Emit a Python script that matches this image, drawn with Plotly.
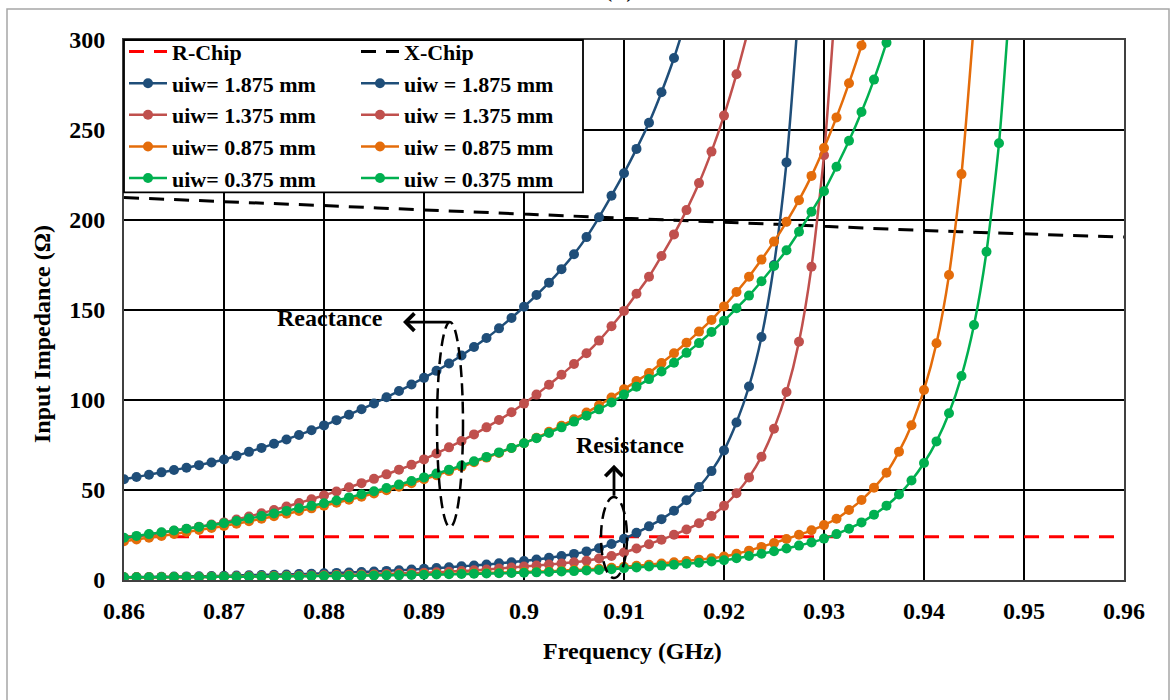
import plotly.graph_objects as go

# ---------------- data ----------------
freq = [round(0.86 + 0.00125 * i, 5) for i in range(81)]  # sampling grid (GHz)

chip_freq = [0.86, 0.87, 0.88, 0.89, 0.90, 0.91, 0.92, 0.93, 0.94, 0.95, 0.96]
R_chip = [24, 24, 24, 24, 24, 24, 24, 24, 24, 24, 24]
X_chip = [212.5, 210.2, 208, 205.6, 203.3, 201, 198.8, 196.5, 194.2, 192.3, 190.5]

X_1875 = [56, 57.2, 58.5, 59.8, 61.1, 62.4, 63.8, 65.3, 66.9,
          69, 71.2, 73.4, 75.7, 78.1, 80.6, 83.2, 85.9,
          88.8, 91.8, 94.9, 98.1, 101.5, 105, 108.6, 112.3,
          116.2, 120.3, 124.7, 129.4, 134.4, 139.8, 145.6, 151.8,
          158.3, 165.2, 172.7, 181, 190.5, 201.5, 213.5, 226,
          239.5, 254, 271, 290, 312]
X_1375 = [23, 24, 25.1, 26.2, 27.3, 28.4, 29.6, 30.8, 32,
          33.6, 35.3, 37.1, 38.9, 40.8, 42.8, 44.9, 47,
          49.2, 51.5, 53.8, 56.2, 58.7, 61.3, 64, 67,
          70.3, 73.7, 77.2, 80.9, 84.8, 88.9, 93.2, 98,
          103, 108.5, 114, 120, 126, 133, 141, 149.5,
          159, 168.5, 180, 192, 205.5, 220.5, 238, 258, 281, 307]
X_0875 = [21.5, 22.5, 23.5, 24.5, 25.6, 26.7, 27.8, 28.9, 30,
          31.3, 32.6, 34, 35.4, 36.8, 38.3, 39.8, 41.3,
          42.9, 44.6, 46.3, 48.1, 49.9, 51.8, 53.8, 56,
          58.2, 60.5, 62.9, 65.4, 68, 70.6, 73.3, 76,
          79, 82.3, 85.7, 89.3, 93, 97, 101.4, 106,
          110.5, 115, 120.5, 126, 131.8, 138, 144.5, 152, 160, 168.5,
          178, 188, 199, 211, 224.5, 240, 257, 276, 297, 322]
X_0375 = [23.5, 24.5, 25.5, 26.5, 27.5, 28.5, 29.5, 30.5, 31.5,
          32.8, 34.1, 35.5, 36.9, 38.4, 39.9, 41.2, 42.6,
          44.2, 45.9, 47.6, 49.3, 51.1, 53, 55, 57,
          59.1, 61.3, 63.6, 66, 68.4, 70.9, 73.4, 76,
          78.8, 81.7, 84.8, 88, 91.3, 94.8, 98.6, 103,
          107.4, 111.6, 115.8, 120.7, 126.2, 131.6, 137.8, 144, 151, 158,
          166, 174.4, 183.2, 193.5, 204.6, 216, 229.6, 244, 260, 278, 298.5, 322]

R_1875 = [1.5, 1.6, 1.7, 1.8, 1.9, 2.0, 2.1, 2.2, 2.35,
          2.5, 2.65, 2.8, 2.95, 3.1, 3.3, 3.5, 3.7,
          3.95, 4.2, 4.45, 4.75, 5.05, 5.4, 5.8, 6.2,
          6.65, 7.1, 7.6, 8.1, 8.65, 9.25, 9.9, 10.6,
          11.4, 12.3, 13.3, 14.5, 15.9, 17.6, 20.0, 22.9,
          26.2, 29.8, 33.8, 38.5, 44.3, 51.6, 60.5, 72, 87.5, 107.5, 135, 175, 232, 320]
R_1375 = [1.3, 1.35, 1.4, 1.45, 1.5, 1.55, 1.6, 1.7, 1.8,
          1.9, 2.0, 2.1, 2.2, 2.3, 2.4, 2.5, 2.6,
          2.75, 2.9, 3.05, 3.2, 3.4, 3.6, 3.8, 4.0,
          4.3, 4.6, 5.0, 5.4, 5.85, 6.35, 6.9, 7.5,
          8.05, 8.6, 9.2, 9.85, 10.7, 11.9, 13.3, 15.3,
          17.5, 19.9, 22.4, 25.1, 28.1, 31.5, 35.6, 41.2, 48.2, 57, 68.5, 84,
          104.4, 132.4, 174, 236, 330]
R_0875 = [1.5, 1.52, 1.55, 1.58, 1.62, 1.66, 1.7, 1.75, 1.8,
          1.86, 1.92, 1.98, 2.05, 2.12, 2.2, 2.28, 2.36,
          2.45, 2.54, 2.63, 2.73, 2.84, 2.95, 3.07, 3.2,
          3.33, 3.46, 3.6, 3.75, 3.9, 4.06, 4.23, 4.4,
          4.65, 4.9, 5.2, 5.5, 5.85, 6.25, 6.75, 7.3,
          7.9, 8.5, 9.2, 9.9, 10.6, 11.3, 12.1, 13.0,
          14.6, 16.3, 18.4, 20.6, 22.8, 25.1, 27.6, 30.5, 34, 38.9, 44.4, 51.3,
          59.6, 71.3, 86, 105.6, 131.5, 169.4, 225.5, 310]
R_0375 = [1.5, 1.52, 1.55, 1.58, 1.61, 1.64, 1.68, 1.72, 1.76,
          1.81, 1.86, 1.91, 1.97, 2.03, 2.09, 2.16, 2.23,
          2.3, 2.38, 2.46, 2.55, 2.64, 2.73, 2.83, 2.94,
          3.05, 3.17, 3.3, 3.43, 3.57, 3.72, 3.88, 4.05,
          4.25, 4.45, 4.7, 4.95, 5.25, 5.6, 6.0, 6.5,
          7.0, 7.5, 8.0, 8.5, 9.0, 9.6, 10.3, 11.0,
          12.1, 13.3, 14.6, 16.0, 17.5, 19.1, 20.9, 23.0, 25.5, 28.5, 32.0, 36.3,
          41.3, 47.5, 55.3, 65, 77, 92.6, 113.3, 141.7, 182.4, 242.6, 335]

x_ticks = [0.86, 0.87, 0.88, 0.89, 0.90, 0.91, 0.92, 0.93, 0.94, 0.95, 0.96]
x_tick_text = ["0.86", "0.87", "0.88", "0.89", "0.9", "0.91", "0.92", "0.93", "0.94", "0.95", "0.96"]
y_ticks = [0, 50, 100, 150, 200, 250, 300]

# ---------------- styling ----------------
FONT = "Liberation Serif"
C_BLUE = "#1F4E79"
C_RED = "#C0504D"
C_ORANGE = "#E46C0A"
C_GREEN = "#00B050"

fig = go.Figure()

fig.add_trace(go.Scatter(x=chip_freq, y=R_chip, mode="lines", name="R-Chip", legend="legend",
                         line=dict(color="#FF0000", width=3, dash="15px,10px")))
fig.add_trace(go.Scatter(x=chip_freq, y=X_chip, mode="lines", name="X-Chip", legend="legend2",
                         line=dict(color="#000000", width=3, dash="15px,10px", shape="spline")))

series = [
    ("uiw= 1.875 mm", R_1875, "uiw = 1.875 mm", X_1875, C_BLUE),
    ("uiw= 1.375 mm", R_1375, "uiw = 1.375 mm", X_1375, C_RED),
    ("uiw= 0.875 mm", R_0875, "uiw = 0.875 mm", X_0875, C_ORANGE),
    ("uiw= 0.375 mm", R_0375, "uiw = 0.375 mm", X_0375, C_GREEN),
]
for rname, rvals, xname, xvals, col in series:
    for nm, vals, lg in ((rname, rvals, "legend"), (xname, xvals, "legend2")):
        fig.add_trace(go.Scatter(
            x=freq[:len(vals)], y=vals, mode="lines+markers", name=nm, legend=lg,
            line=dict(color=col, width=2.5, shape="spline", smoothing=0.6),
            marker=dict(color=col, size=10, line=dict(width=0)),
        ))

axis_font = dict(family=FONT, size=24, color="#000000", weight="bold")

fig.update_xaxes(range=[0.86, 0.96], tickvals=x_ticks, ticktext=x_tick_text,
                 showgrid=True, gridcolor="#000000", gridwidth=2,
                 showline=True, linecolor="#404040", linewidth=2, mirror=True,
                 ticks="", ticklabelstandoff=8, tickfont=axis_font, zeroline=False)
fig.update_yaxes(range=[0, 300], tickvals=y_ticks,
                 showgrid=True, gridcolor="#000000", gridwidth=2,
                 showline=True, linecolor="#404040", linewidth=2, mirror=True,
                 ticks="", ticklabelstandoff=12, tickfont=axis_font, zeroline=False)

ann_font = dict(family=FONT, size=24, color="#000000", weight="bold")
title_font = dict(family=FONT, size=24, color="#000000", weight="bold")

annotations = [
    dict(text="Frequency (GHz)", xref="paper", yref="paper", x=0.508, y=-0.1315,
         xanchor="center", yanchor="middle", showarrow=False, font=title_font),
    dict(text="Input Impedance (Ω)", xref="paper", yref="paper", x=-0.082, y=0.4556,
         xanchor="center", yanchor="middle", textangle=-90, showarrow=False, font=title_font),
    dict(text="(b)", xref="paper", yref="paper", x=0.495, y=1.0667,
         xanchor="center", yanchor="bottom", showarrow=False,
         font=dict(family=FONT, size=28, color="#000000")),
    dict(text="Reactance", xref="x", yref="y", x=0.8806, y=145.5,
         xanchor="center", yanchor="middle", showarrow=False, font=ann_font),
    dict(text="Resistance", xref="x", yref="y", x=0.9106, y=75,
         xanchor="center", yanchor="middle", showarrow=False, font=ann_font),
    # arrows
    dict(text="", xref="x", yref="y", axref="x", ayref="y",
         x=0.8879, y=143.3, ax=0.8927, ay=143.3, showarrow=True,
         arrowhead=4, arrowsize=1.2, arrowwidth=2.8, arrowcolor="#000000", standoff=0),
    dict(text="", xref="x", yref="y", axref="x", ayref="y",
         x=0.909, y=64, ax=0.909, ay=46, showarrow=True,
         arrowhead=4, arrowsize=1.2, arrowwidth=2.8, arrowcolor="#000000", standoff=0),
]

shapes = [
    dict(type="circle", xref="x", yref="y", x0=0.8913, x1=0.8939, y0=29.4, y1=143.3,
         line=dict(color="#000000", width=2.5, dash="12px,6px")),
    dict(type="circle", xref="x", yref="y", x0=0.9077, x1=0.9103, y0=1.1, y1=46.1,
         line=dict(color="#000000", width=2.5, dash="12px,6px")),
    dict(type="rect", xref="paper", yref="paper", x0=-0.117, x1=1.045, y0=-0.224, y1=1.0574,
         line=dict(color="#A6A6A6", width=1.5), layer="below"),
    # legend frame (white box, both legend columns sit on top of it)
    dict(type="rect", xref="paper", yref="paper", x0=0.0, x1=0.459, y0=0.718, y1=1.0,
         fillcolor="#FFFFFF", line=dict(color="#000000", width=1.8), layer="above"),
]

legend_font = dict(family=FONT, size=22, color="#000000", weight="bold")
fig.update_layout(
    width=1176, height=700,
    margin=dict(l=124, r=52, t=40, b=120),
    paper_bgcolor="#FFFFFF", plot_bgcolor="#FFFFFF",
    font=dict(family=FONT, color="#000000"),
    showlegend=True,
    legend=dict(orientation="v", x=0.0, y=1.017, xanchor="left", yanchor="top",
                itemwidth=38, bgcolor="rgba(0,0,0,0)", borderwidth=0,
                font=legend_font, traceorder="normal", tracegroupgap=0),
    legend2=dict(orientation="v", x=0.232, y=1.017, xanchor="left", yanchor="top",
                 itemwidth=38, bgcolor="rgba(0,0,0,0)", borderwidth=0,
                 font=legend_font, traceorder="normal", tracegroupgap=0),
    annotations=annotations,
    shapes=shapes,
)

fig.write_html("out.html")
